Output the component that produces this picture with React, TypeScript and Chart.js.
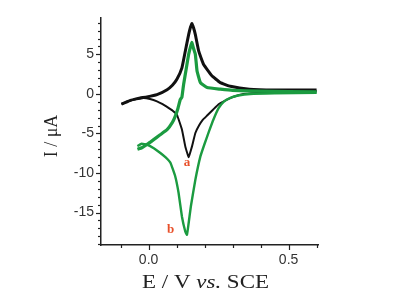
import React, { useEffect, useRef } from 'react';
import { Chart, registerables } from 'chart.js';

Chart.register(...registerables);

// ---- data (E in V vs. SCE, I in µA) ----
const blackFwdE = [-0.097, -0.08, -0.065, -0.045, -0.03, -0.006, 0.03, 0.066, 0.085, 0.101, 0.119, 0.131, 0.143, 0.15, 0.155, 0.161, 0.167, 0.179, 0.196, 0.226, 0.256, 0.292, 0.36, 0.45, 0.6];
const blackFwdI = [-1.3, -1.05, -0.81, -0.62, -0.51, -0.38, -0.09, 0.54, 1.1, 1.85, 3.3, 5.4, 7.5, 8.5, 8.9, 8.3, 7.5, 5.4, 3.75, 2.3, 1.43, 0.96, 0.6, 0.5, 0.5];

const blackRevE = [0.6, 0.45, 0.387, 0.339, 0.3, 0.28, 0.25, 0.23, 0.21, 0.194, 0.18, 0.167, 0.155, 0.147, 0.143, 0.139, 0.131, 0.119, 0.101, 0.085, 0.071, 0.05, 0.03, 0.005, -0.018, -0.05, -0.075, -0.097];
const blackRevI = [0.35, 0.25, 0.13, 0.0, -0.4, -0.72, -1.3, -2.0, -2.7, -3.25, -4.0, -4.94, -6.63, -7.6, -8.0, -7.6, -6.63, -4.5, -2.62, -2.1, -1.77, -1.3, -0.94, -0.65, -0.52, -0.7, -0.95, -1.3];

const greenFwdE = [-0.04, -0.024, 0.0, 0.018, 0.04, 0.066, 0.085, 0.095, 0.105, 0.113, 0.119, 0.125, 0.135, 0.143, 0.15, 0.155, 0.16, 0.167, 0.173, 0.185, 0.209, 0.256, 0.3, 0.4, 0.6];
const greenFwdI = [-7.0, -6.8, -6.25, -5.78, -5.2, -4.52, -3.6, -2.84, -1.8, -0.72, -0.4, 1.2, 3.3, 5.0, 6.0, 6.5, 5.8, 5.0, 2.9, 1.43, 0.8, 0.6, 0.45, 0.35, 0.25];

const greenRevE = [0.6, 0.45, 0.363, 0.32, 0.292, 0.268, 0.25, 0.232, 0.215, 0.2, 0.185, 0.167, 0.151, 0.142, 0.137, 0.131, 0.119, 0.107, 0.095, 0.078, 0.06, 0.042, 0.02, -0.006, -0.025, -0.04];
const greenRevI = [0.15, 0.08, 0.0, -0.2, -0.5, -1.0, -1.8, -3.2, -4.8, -6.3, -7.9, -10.85, -14.2, -16.6, -17.8, -17.4, -15.5, -12.5, -10.4, -8.7, -8.0, -7.47, -6.9, -6.42, -6.3, -6.6];

const curveLabels = ['a', 'b'];
const curveLabelE = [0.137, 0.079];
const curveLabelI = [-8.75, -17.2];

const xMajorTicks = [0.0, 0.5];
const yMajorTicks = [-15, -10, -5, 0, 5];

const xTitleParts = ['E / V ', 'vs.', ' SCE'];
const yTitle = 'I / μA';

const toPts = (xs: number[], ys: number[]) => xs.map((x, i) => ({ x, y: ys[i] }));
const isMajor = (list: number[], v: number) => list.some((m) => Math.abs(m - v) < 1e-6);

const decorPlugin = {
  id: 'decor',
  afterDraw(chart: any) {
    const ctx = chart.ctx as CanvasRenderingContext2D;
    const xs = chart.scales.x;
    const ys = chart.scales.y;
    const area = chart.chartArea;
    ctx.save();
    // tick marks (outward)
    ctx.strokeStyle = '#222';
    ctx.lineWidth = 1.2;
    ys.ticks.forEach((t: any) => {
      const p = Math.round(ys.getPixelForValue(t.value)) + 0.5;
      const len = isMajor(yMajorTicks, t.value) ? 5 : 3;
      ctx.beginPath();
      ctx.moveTo(area.left - len, p);
      ctx.lineTo(area.left, p);
      ctx.stroke();
    });
    xs.ticks.forEach((t: any) => {
      const p = Math.round(xs.getPixelForValue(t.value)) + 0.5;
      const len = isMajor(xMajorTicks, t.value) ? 5 : 3;
      ctx.beginPath();
      ctx.moveTo(p, area.bottom);
      ctx.lineTo(p, area.bottom + len);
      ctx.stroke();
    });
    // curve labels
    ctx.font = 'bold 13px "Liberation Serif"';
    ctx.fillStyle = '#e8502a';
    ctx.textAlign = 'center';
    ctx.textBaseline = 'middle';
    curveLabels.forEach((s, i) => {
      ctx.fillText(s, xs.getPixelForValue(curveLabelE[i]), ys.getPixelForValue(curveLabelI[i]));
    });
    // x title with italic "vs."
    ctx.fillStyle = '#222';
    ctx.textAlign = 'left';
    ctx.textBaseline = 'alphabetic';
    const fonts = ['19px "Liberation Serif"', 'italic 19px "Liberation Serif"', '19px "Liberation Serif"'];
    const widths = xTitleParts.map((s, i) => {
      ctx.font = fonts[i];
      return ctx.measureText(s).width;
    });
    const total = widths.reduce((a, b) => a + b, 0);
    const target = 127;
    const sx = target / total;
    ctx.save();
    ctx.translate(205.5 - target / 2, 288);
    ctx.scale(sx, 1);
    let cx = 0;
    xTitleParts.forEach((s, i) => {
      ctx.font = fonts[i];
      ctx.fillText(s, cx, 0);
      cx += widths[i];
    });
    ctx.restore();
    // y title
    ctx.save();
    ctx.translate(52, 136);
    ctx.rotate(-Math.PI / 2);
    ctx.font = '18px "Liberation Serif"';
    ctx.textAlign = 'center';
    ctx.textBaseline = 'middle';
    ctx.fillStyle = '#222';
    ctx.fillText(yTitle, 0, 0);
    ctx.restore();
    ctx.restore();
  },
};

export default function App() {
  const ref = useRef<HTMLCanvasElement | null>(null);
  useEffect(() => {
    if (!ref.current) return;
    const green = '#1b9b40';
    const black = '#111111';
    const chart = new Chart(ref.current, {
      type: 'scatter',
      data: {
        datasets: [
          { data: toPts(greenFwdE, greenFwdI), showLine: true, borderColor: green, borderWidth: 3.2, pointRadius: 0, tension: 0.1 },
          { data: toPts(greenRevE, greenRevI), showLine: true, borderColor: green, borderWidth: 2.4, pointRadius: 0, tension: 0.1 },
          { data: toPts(blackFwdE, blackFwdI), showLine: true, borderColor: black, borderWidth: 3, pointRadius: 0, tension: 0.1 },
          { data: toPts(blackRevE, blackRevI), showLine: true, borderColor: black, borderWidth: 2, pointRadius: 0, tension: 0.1 },
        ],
      },
      options: {
        animation: false,
        responsive: true,
        maintainAspectRatio: false,
        layout: { padding: { top: 18, right: 80, left: 0, bottom: 0 } },
        plugins: { legend: { display: false }, tooltip: { enabled: false } },
        scales: {
          x: {
            type: 'linear',
            min: -0.17,
            max: 0.605,
            grid: { display: false, drawTicks: false },
            border: { display: true, color: '#222', width: 1.5 },
            afterFit: (s: any) => { s.height = 53; },
            ticks: {
              stepSize: 0.1,
              autoSkip: false,
              includeBounds: false,
              maxRotation: 0,
              padding: 7,
              color: '#333',
              font: { family: '"Liberation Sans"', size: 14 },
              callback: (v: any) => (isMajor(xMajorTicks, Number(v)) ? Number(v).toFixed(1) : ''),
            },
          },
          y: {
            type: 'linear',
            min: -19.1,
            max: 9.6,
            grid: { display: false, drawTicks: false },
            border: { display: true, color: '#222', width: 1.5 },
            afterFit: (s: any) => { s.width = 101; },
            ticks: {
              stepSize: 1,
              autoSkip: false,
              includeBounds: false,
              padding: 7,
              color: '#333',
              font: { family: '"Liberation Sans"', size: 14 },
              callback: (v: any) => (isMajor(yMajorTicks, Number(v)) ? String(Math.round(Number(v))) : ''),
            },
          },
        },
      } as any,
      plugins: [decorPlugin],
    });
    return () => chart.destroy();
  }, []);
  return (
    <div style={{ position: 'absolute', left: 0, top: 0, width: 398, height: 298, background: '#fff' }}>
      <canvas ref={ref} />
    </div>
  );
}
